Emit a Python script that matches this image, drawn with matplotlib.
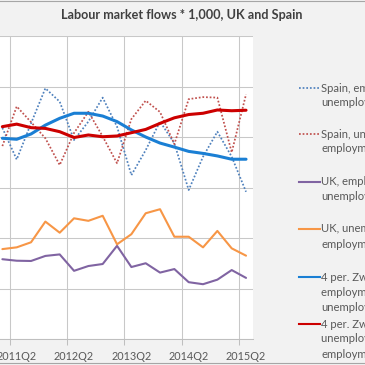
import matplotlib
matplotlib.use("Agg")
import matplotlib.pyplot as plt
from matplotlib.lines import Line2D

plt.rcParams["font.family"] = ["Lato", "DejaVu Sans"]

# quarters shown on the chart (first visible point is 2011Q1)
quarters = ["2011Q1", "2011Q2", "2011Q3", "2011Q4",
            "2012Q1", "2012Q2", "2012Q3", "2012Q4",
            "2013Q1", "2013Q2", "2013Q3", "2013Q4",
            "2014Q1", "2014Q2", "2014Q3", "2014Q4",
            "2015Q1", "2015Q2"]

# flows * 1,000
spain_emp_to_unemp = [836, 711, 854, 993, 940, 788, 861, 956, 841, 649,
                      748, 861, 775, 590, 722, 821, 722, 583]
spain_unemp_to_emp = [764, 921, 859, 795, 689, 816, 900, 802, 696, 871,
                      944, 899, 772, 950, 958, 956, 739, 969]
uk_emp_to_unemp = [316, 310, 309, 329, 335, 270, 289, 297, 369, 285,
                   300, 263, 277, 225, 217, 235, 273, 242]
uk_unemp_to_emp = [356, 363, 383, 465, 421, 478, 468, 488, 375, 415,
                   498, 514, 405, 405, 363, 428, 359, 330]
# 4 period moving average trendlines as drawn
ma_spain_emp_to_unemp = [795, 791, 812, 847, 874, 894, 894, 883, 861, 828,
                         800, 776, 760, 743, 735, 725, 712, 712]
ma_spain_unemp_to_emp = [841, 851, 837, 834, 821, 798, 808, 801, 804, 817,
                         830, 854, 876, 889, 894, 907, 904, 906]

series = [
    (spain_emp_to_unemp, "#4f81bd", (0, (1, 1.1)), 1.25,
     ["Spain, employment to", "unemployment"]),
    (spain_unemp_to_emp, "#c0504d", (0, (1, 1.1)), 1.25,
     ["Spain, unemployment to", "employment"]),
    (uk_emp_to_unemp, "#8064a2", "-", 1.5,
     ["UK, employment to", "unemployment"]),
    (uk_unemp_to_emp, "#f79646", "-", 1.5,
     ["UK, unemployment to", "employment"]),
    (ma_spain_emp_to_unemp, "#1a7fd4", "-", 2.2,
     ["4 per. Zw. Gem. (Spain,", "employment to", "unemployment)"]),
    (ma_spain_unemp_to_emp, "#cc0000", "-", 2.2,
     ["4 per. Zw. Gem. (Spain,", "unemployment to", "employment)"]),
]

W = H = 365
fig = plt.figure(figsize=(3.65, 3.65), dpi=100, facecolor="#f2f2f2")
ax = fig.add_axes([-4.8 / W, 1 - 339 / H, 258 / W, 303 / H])
ax.set_facecolor("white")

x = list(range(len(quarters)))
for vals, col, ls, lw, lab in series:
    ax.plot(x, vals, color=col, ls=ls, lw=lw, solid_capstyle="round")

ax.set_xlim(-0.5, len(quarters) - 0.5)
ax.set_ylim(0, 1200)
ax.set_yticks(range(0, 1201, 200))
ax.tick_params(axis="y", length=0, labelleft=False)
ax.grid(axis="y", color="#c8c8c8", lw=0.75)

ax.set_xticks([i for i in x if quarters[i].endswith("Q2")])
ax.set_xticklabels([q for q in quarters if q.endswith("Q2")])
ax.set_xticks([i + 0.5 for i in x if quarters[i].endswith("Q1")], minor=True)
ax.tick_params(axis="x", which="major", length=0, pad=8.5, labelsize=7.8,
               labelcolor="#595959")
ax.tick_params(axis="x", which="minor", length=4.5, color="#bfbfbf", width=0.75)
ax.grid(axis="x", which="minor", color="#c8c8c8", lw=0.75)
ax.set_axisbelow(True)
for s in ["top", "right", "left"]:
    ax.spines[s].set_visible(False)
ax.spines["bottom"].set_color("#bfbfbf")
ax.spines["bottom"].set_linewidth(0.75)

fig.text(182 / W, 1 - 15 / H, "Labour market flows * 1,000, UK and Spain",
         ha="center", va="center", fontsize=9.1, weight="bold", color="#404040")

# legend (cut off at the right edge like the original)
legend_y = [88, 134, 182, 229, 277, 324]
for (vals, col, ls, lw, lab), y0 in zip(series, legend_y):
    fig.add_artist(Line2D([299 / W, 320 / W], [1 - y0 / H] * 2, color=col,
                          ls=ls, lw=min(lw, 1.5)))
    for k, line in enumerate(lab):
        fig.text(321 / W, 1 - (y0 + 15 * k) / H, line, ha="left", va="center",
                 fontsize=8.1, color="#595959")

fig.add_artist(Line2D([0, 1], [1 - 0.5 / H] * 2, color="#a6a6a6", lw=0.8))
fig.add_artist(Line2D([0, 1], [1 - 362.5 / H] * 2, color="#a6a6a6", lw=0.8))

fig.savefig("out.png", dpi=100, facecolor=fig.get_facecolor())
